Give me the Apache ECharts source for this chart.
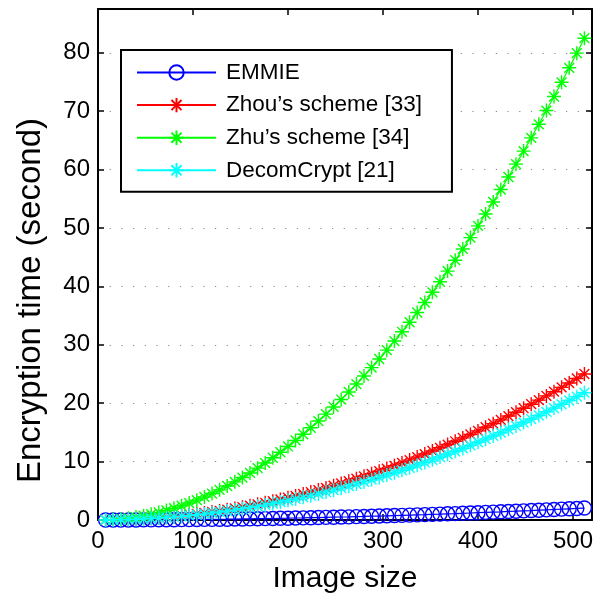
<!DOCTYPE html>
<html><head><meta charset="utf-8">
<script src="https://cdn.jsdelivr.net/npm/echarts@6/dist/echarts.min.js"></script>
<style>html,body{margin:0;padding:0;background:#fff}#c{width:603px;height:596px}</style>
</head><body><div id="c"></div>
<script>
const imageSizes = [8,16,24,32,40,48,56,64,72,80,88,96,104,112,120,128,136,144,152,160,168,176,184,192,200,208,216,224,232,240,248,256,264,272,280,288,296,304,312,320,328,336,344,352,360,368,376,384,392,400,408,416,424,432,440,448,456,464,472,480,488,496,504,512];
const emmie = [0.00,0.00,0.00,0.01,0.01,0.02,0.02,0.03,0.04,0.05,0.06,0.07,0.08,0.10,0.11,0.13,0.14,0.16,0.18,0.20,0.22,0.24,0.26,0.29,0.31,0.34,0.36,0.39,0.42,0.45,0.48,0.51,0.54,0.58,0.61,0.65,0.68,0.72,0.76,0.80,0.84,0.88,0.92,0.97,1.01,1.06,1.10,1.15,1.20,1.25,1.30,1.35,1.40,1.46,1.51,1.57,1.62,1.68,1.74,1.80,1.86,1.92,1.98,2.05];
const zhou = [0.01,0.02,0.05,0.10,0.15,0.22,0.30,0.39,0.49,0.61,0.74,0.88,1.03,1.20,1.37,1.56,1.76,1.98,2.20,2.44,2.69,2.95,3.23,3.52,3.81,4.13,4.45,4.79,5.13,5.49,5.87,6.25,6.65,7.06,7.48,7.91,8.36,8.81,9.28,9.77,10.26,10.77,11.29,11.82,12.36,12.92,13.48,14.06,14.65,15.26,15.88,16.50,17.14,17.80,18.46,19.14,19.83,20.53,21.25,21.97,22.71,23.46,24.23,25.00];
const zhu = [0.02,0.08,0.18,0.32,0.50,0.73,0.99,1.29,1.63,2.01,2.44,2.90,3.40,3.95,4.53,5.16,5.82,6.53,7.27,8.06,8.88,9.75,10.66,11.60,12.59,13.62,14.68,15.79,16.94,18.13,19.36,20.63,21.93,23.28,24.67,26.10,27.57,29.08,30.64,32.23,33.86,35.53,37.24,38.99,40.79,42.62,44.49,46.41,48.36,50.36,52.39,54.46,56.58,58.73,60.93,63.17,65.44,67.76,70.11,72.51,74.95,77.43,79.94,82.50];
const decomCrypt = [0.01,0.02,0.05,0.09,0.13,0.19,0.26,0.34,0.43,0.53,0.64,0.77,0.90,1.04,1.20,1.36,1.54,1.72,1.92,2.13,2.35,2.58,2.82,3.07,3.33,3.60,3.88,4.17,4.48,4.79,5.11,5.45,5.80,6.15,6.52,6.90,7.29,7.69,8.10,8.52,8.95,9.39,9.84,10.30,10.78,11.26,11.76,12.26,12.78,13.31,13.84,14.39,14.95,15.52,16.10,16.69,17.29,17.90,18.53,19.16,19.80,20.46,21.12,21.80];
const seriesNames = ['EMMIE', 'Zhou’s scheme [33]', 'Zhu’s scheme [34]', 'DecomCrypt [21]'];
const xTicks = [0,100,200,300,400,500];
const yTicks = [0,10,20,30,40,50,60,70,80];
const xLabel = 'Image size';
const yLabel = 'Encryption time (second)';

const FONT = '"Liberation Sans", Arial, Helvetica, sans-serif';
const circlePath = 'path://M0,10A10,10 0 1,1 20,10A10,10 0 1,1 0,10Z';
const starPath = 'path://M10,0L10,20M0,10L20,10M3,3L17,17M3,17L17,3';
const colors = ['#0000ff', '#ff0000', '#00ff00', '#00ffff'];
const values = [emmie, zhou, zhu, decomCrypt];
const symbols = [circlePath, starPath, starPath, starPath];
const symbolSizes = [14, 14, 14, 14];

const pair = arr => imageSizes.map((x, i) => [x, arr[i]]);
const fmtX = v => (xTicks.indexOf(v) >= 0 ? String(v) : '');
const fmtY = v => (yTicks.indexOf(v) >= 0 ? String(v) : '');

const axisCommon = {
  axisLine: {show: true, onZero: false, lineStyle: {color: '#000', width: 2}},
  axisTick: {show: true, inside: true, length: 6, lineStyle: {color: '#000', width: 1.5}},
};

const chart = echarts.init(document.getElementById('c'), null, {renderer: 'canvas'});
chart.setOption({
  animation: false,
  backgroundColor: '#fff',
  grid: {left: 98, right: 11, top: 9, bottom: 76, outerBoundsMode: 'none'},
  legend: {
    orient: 'vertical', left: 121, top: 50,
    padding: [11, 30, 10, 15],
    borderColor: '#000', borderWidth: 2, backgroundColor: '#fff',
    itemWidth: 79, itemHeight: 18, itemGap: 9.6,
    textStyle: {fontFamily: FONT, fontSize: 22.5, color: '#000', lineHeight: 22, padding: [0, 0, 0, 5]},
    data: seriesNames
  },
  xAxis: [
    Object.assign({type: 'value', min: 0, max: 520, interval: 100, position: 'bottom',
      name: xLabel, nameLocation: 'middle', nameGap: 44,
      nameTextStyle: {fontFamily: FONT, fontSize: 30, color: '#000'},
      axisLabel: {formatter: fmtX, fontFamily: FONT, fontSize: 24, color: '#000', margin: 9},
      splitLine: {show: false}}, axisCommon),
    Object.assign({type: 'value', min: 0, max: 520, interval: 100, position: 'top',
      axisLabel: {show: false}, splitLine: {show: false}}, axisCommon)
  ],
  yAxis: [
    Object.assign({type: 'value', min: 0, max: 87.5, interval: 10, position: 'left',
      name: yLabel, nameLocation: 'middle', nameGap: 51,
      nameTextStyle: {fontFamily: FONT, fontSize: 33, color: '#000', padding: [0, 72, 0, 0]},
      axisLabel: {formatter: fmtY, fontFamily: FONT, fontSize: 24, color: '#000', margin: 8},
      splitLine: {show: true, lineStyle: {color: '#888', width: 1, type: [1.2, 10.5]}}}, axisCommon),
    Object.assign({type: 'value', min: 0, max: 87.5, interval: 10, position: 'right',
      axisLabel: {show: false}, splitLine: {show: false}}, axisCommon)
  ],
  series: seriesNames.map((name, i) => ({
    type: 'line', name: name, xAxisIndex: 0, yAxisIndex: 0,
    data: pair(values[i]),
    symbol: symbols[i], symbolSize: symbolSizes[i], showAllSymbol: true,
    lineStyle: {color: colors[i], width: 1.2},
    itemStyle: {color: i === 0 ? 'rgba(0,0,0,0)' : colors[i], borderColor: colors[i], borderWidth: 1.4},
    emphasis: {disabled: true}
  }))
});
</script></body></html>
